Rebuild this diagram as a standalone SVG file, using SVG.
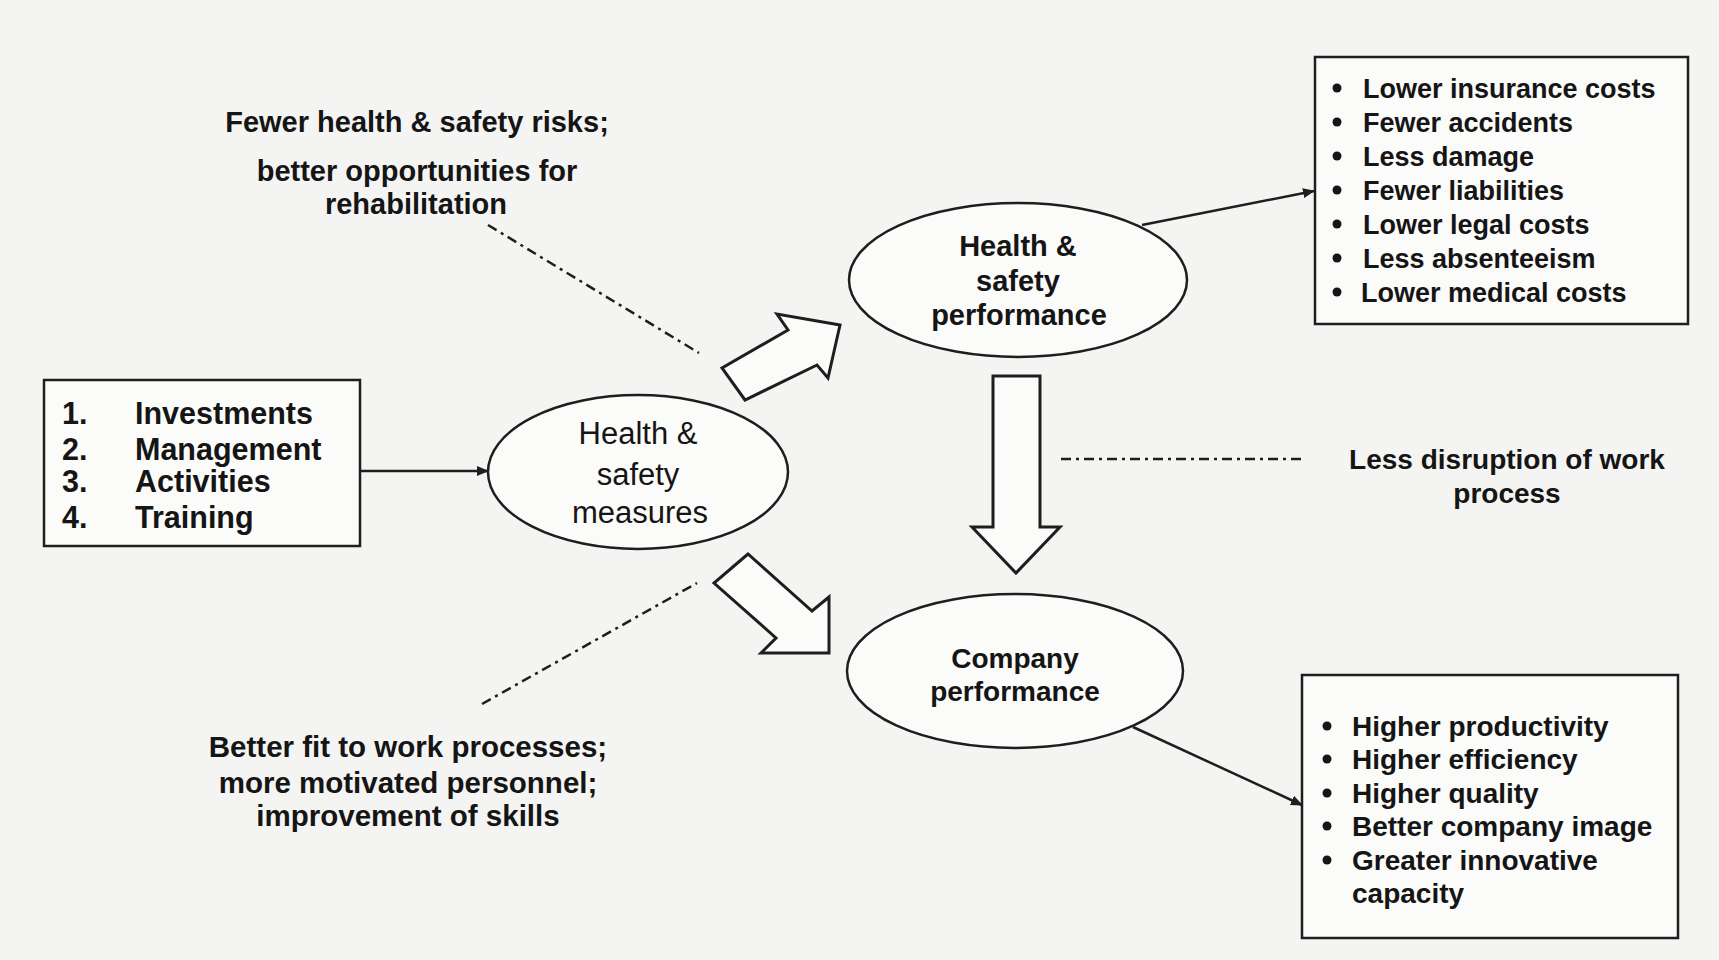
<svg xmlns="http://www.w3.org/2000/svg" width="1719" height="960" viewBox="0 0 1719 960">
<defs>
<marker id="ah" markerWidth="12" markerHeight="10" refX="11" refY="5" orient="auto" markerUnits="userSpaceOnUse">
<path d="M0,0 L12,5 L0,10 Z" fill="#1e1e1e"/>
</marker>
<style>
.bg{fill:#f4f4f2}
.shape{fill:#fbfbfa;stroke:#1e1e1e;stroke-width:2.5}
.blk{fill:#fbfbfa;stroke:#1e1e1e;stroke-width:3;stroke-linejoin:miter}
.t{font-family:"Liberation Sans",Arial,sans-serif;font-weight:bold;fill:#151515}
.r{font-family:"Liberation Sans",Arial,sans-serif;font-weight:normal;fill:#151515}
.c{text-anchor:middle}
.conn{stroke:#1e1e1e;stroke-width:2.5;fill:none}
.dash{stroke:#1e1e1e;stroke-width:2.5;fill:none;stroke-dasharray:10 5 3 5}
.bul{fill:#151515}
</style>
</defs>
<rect class="bg" x="0" y="0" width="1719" height="960"/>

<g id="inputs">
<rect class="shape" x="44" y="380" width="316" height="166"/>
<g class="t" font-size="30.5">
<text x="62" y="424">1.</text><text x="135" y="424">Investments</text>
<text x="62" y="460">2.</text><text x="135" y="460">Management</text>
<text x="62" y="492">3.</text><text x="135" y="492">Activities</text>
<text x="62" y="528">4.</text><text x="135" y="528">Training</text>
</g>
</g>

<g id="measures">
<ellipse class="shape" cx="638" cy="472" rx="150" ry="77"/>
<g class="r c" font-size="31">
<text x="638" y="444">Health &amp;</text>
<text x="638" y="485">safety</text>
<text x="640" y="523">measures</text>
</g>
</g>

<g id="hs-performance">
<ellipse class="shape" cx="1018" cy="280" rx="169" ry="77"/>
<g class="t c" font-size="29">
<text x="1018" y="256">Health &amp;</text>
<text x="1018" y="291">safety</text>
<text x="1019" y="325">performance</text>
</g>
</g>

<g id="company-performance">
<ellipse class="shape" cx="1015" cy="671" rx="168" ry="77"/>
<g class="t c" font-size="28">
<text x="1015" y="668">Company</text>
<text x="1015" y="701">performance</text>
</g>
</g>

<g id="hs-benefits">
<rect class="shape" x="1315" y="57" width="373" height="267"/>
<g class="bul">
<circle cx="1337" cy="88" r="4.5"/>
<circle cx="1337" cy="122" r="4.5"/>
<circle cx="1337" cy="156" r="4.5"/>
<circle cx="1337" cy="190" r="4.5"/>
<circle cx="1337" cy="224" r="4.5"/>
<circle cx="1337" cy="258" r="4.5"/>
<circle cx="1337" cy="292" r="4.5"/>
</g>
<g class="t" font-size="27">
<text x="1363" y="98">Lower insurance costs</text>
<text x="1363" y="132">Fewer accidents</text>
<text x="1363" y="166">Less damage</text>
<text x="1363" y="200">Fewer liabilities</text>
<text x="1363" y="234">Lower legal costs</text>
<text x="1363" y="268">Less absenteeism</text>
<text x="1361" y="302">Lower medical costs</text>
</g>
</g>

<g id="company-benefits">
<rect class="shape" x="1302" y="675" width="376" height="263"/>
<g class="bul">
<circle cx="1327" cy="726" r="4.5"/>
<circle cx="1327" cy="759" r="4.5"/>
<circle cx="1327" cy="793" r="4.5"/>
<circle cx="1327" cy="826" r="4.5"/>
<circle cx="1327" cy="860" r="4.5"/>
</g>
<g class="t" font-size="28">
<text x="1352" y="736">Higher productivity</text>
<text x="1352" y="769">Higher efficiency</text>
<text x="1352" y="803">Higher quality</text>
<text x="1352" y="836">Better company image</text>
<text x="1352" y="870">Greater innovative</text>
<text x="1352" y="903">capacity</text>
</g>
</g>

<g id="label-risks">
<g class="t c" font-size="29">
<text x="417" y="132">Fewer health &amp; safety risks;</text>
<text x="417" y="181">better opportunities for</text>
<text x="416" y="214">rehabilitation</text>
</g>
</g>

<g id="label-fit">
<g class="t c" font-size="29.5">
<text x="408" y="757">Better fit to work processes;</text>
<text x="408" y="793">more motivated personnel;</text>
<text x="408" y="826">improvement of skills</text>
</g>
</g>

<g id="label-disruption">
<g class="t c" font-size="28">
<text x="1507" y="469">Less disruption of work</text>
<text x="1507" y="503">process</text>
</g>
</g>

<g id="connectors">
<line class="conn" x1="360" y1="471" x2="488" y2="471" marker-end="url(#ah)"/>
<line class="conn" x1="1142" y1="225" x2="1314" y2="191" marker-end="url(#ah)"/>
<line class="conn" x1="1133" y1="727" x2="1302" y2="805" marker-end="url(#ah)"/>
<polygon class="blk" points="745,400 722,368 788,330 777,314 840,325 828,378 817,365"/>
<polygon class="blk" points="748,554 714,583 776,638 761,653 829,653 829,597 812,611"/>
<polygon class="blk" points="993,376 1040,376 1040,527 1060,527 1016,573 972,527 993,527"/>
<line class="dash" x1="488" y1="225" x2="699" y2="353"/>
<line class="dash" x1="482" y1="704" x2="697" y2="583"/>
<line class="dash" x1="1061" y1="459" x2="1306" y2="459"/>
</g>
</svg>
